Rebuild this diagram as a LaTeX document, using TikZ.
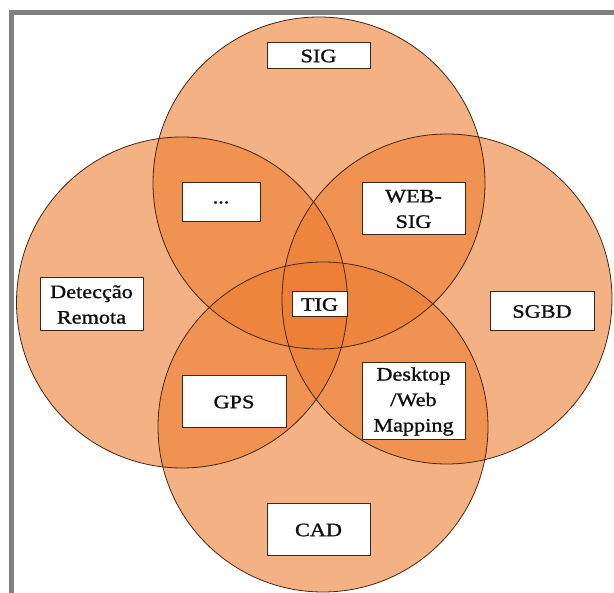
\documentclass[tikz,border=0pt]{standalone}
\usepackage{fontspec}
\setmainfont{Liberation Serif}[FakeStretch=1.17, FakeBold=1.2]
\definecolor{venn}{RGB}{237,125,49}
\definecolor{rim}{RGB}{66,38,18}
\definecolor{boxline}{RGB}{60,40,25}
\definecolor{frame}{RGB}{128,128,128}
\definecolor{ink}{RGB}{15,15,15}
\tikzset{
  disc/.style={fill=venn, fill opacity=0.6},
  rimline/.style={draw=rim, line width=0.8pt},
  tag/.style 2 args={draw=boxline, fill=white, line width=1pt, text=ink,
    minimum width=#1, minimum height=#2, inner sep=0pt, align=center,
    font=\fontsize{19}{25.5}\selectfont}
}
\begin{document}
\begin{tikzpicture}[x=1pt,y=-1pt]
\useasboundingbox (0,0) rectangle (614,593);
\clip (0,0) rectangle (614,593);

% circle centres
\coordinate (cTop) at (319,183);
\coordinate (cLeft) at (182,302.5);
\coordinate (cRight) at (447,299);
\coordinate (cBottom) at (323,427);

% translucent fills, overlaps darken
\fill[disc] (cTop) circle[radius=166pt];
\fill[disc] (cLeft) circle[radius=165.5pt];
\fill[disc] (cRight) circle[radius=165pt];
\fill[disc] (cBottom) circle[radius=165pt];

% outlines
\draw[rimline] (cTop) circle[radius=166pt];
\draw[rimline] (cLeft) circle[radius=165.5pt];
\draw[rimline] (cRight) circle[radius=165pt];
\draw[rimline] (cBottom) circle[radius=165pt];

% outer frame
\draw[frame, line width=5pt] (11,700) -- (11,12.8) -- (700,12.8);

% labels
\node[tag={103pt}{26pt}] (sig) at (318.5,56) {SIG};
\node[tag={78pt}{39pt}] (dots) at (221,202.5) {...};
\node[tag={103pt}{52pt}] (websig) at (413.5,209) {WEB-\\SIG};
\node[tag={103pt}{53pt}] (remota) at (91.5,304.5) {Detecção\\Remota};
\node[tag={55pt}{25pt}] (tig) at (319.5,304.5) {TIG};
\node[tag={104pt}{39pt}] (sgbd) at (542,311.5) {SGBD};
\node[tag={104pt}{52pt}] (gps) at (234,402) {GPS};
\node[tag={103pt}{77pt}] (mapping) at (413.5,401.5) {Desktop\\/Web\\Mapping};
\node[tag={103pt}{52pt}] (cad) at (318.5,530) {CAD};
\end{tikzpicture}
\end{document}
